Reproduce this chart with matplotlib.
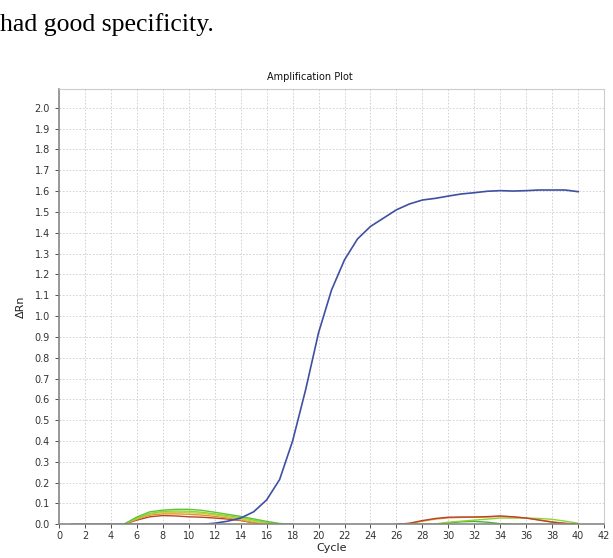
import numpy as np
import matplotlib

matplotlib.use("Agg")
import matplotlib.pyplot as plt

plt.rcParams['font.family'] = ['DejaVu Sans']

# ========= data =========
cycles = np.arange(1, 41)

# 阳性样本 (blue)
blue = [0.0, 0.0, 0.0, 0.0, 0.0, 0.0, 0.0, 0.0, 0.0, 0.0,
        0.0, 0.005, 0.015, 0.03, 0.06, 0.117, 0.215, 0.40, 0.645, 0.92,
        1.125, 1.27, 1.37, 1.43, 1.47, 1.51, 1.538, 1.557, 1.565, 1.576,
        1.586, 1.592, 1.599, 1.602, 1.600, 1.602, 1.605, 1.605, 1.605, 1.597]

# 阴性/其它样本 (first hump, cycles 5-18)
hump_cycles = np.arange(5, 19)
green1 = [0.0, 0.035, 0.060, 0.068, 0.072, 0.072, 0.067, 0.058, 0.048, 0.038, 0.026, 0.014, 0.004, 0.0]
green2 = [0.0, 0.030, 0.052, 0.062, 0.064, 0.063, 0.058, 0.050, 0.041, 0.032, 0.020, 0.009, 0.002, 0.0]
yellow = [0.0, 0.028, 0.050, 0.056, 0.058, 0.056, 0.052, 0.045, 0.036, 0.026, 0.014, 0.004, 0.0, 0.0]
orange = [0.0, 0.024, 0.044, 0.050, 0.050, 0.048, 0.044, 0.038, 0.030, 0.020, 0.008, 0.0, 0.0, 0.0]
brown = [0.0, 0.020, 0.036, 0.042, 0.040, 0.036, 0.034, 0.030, 0.025, 0.018, 0.007, 0.0, 0.0, 0.0]

# second hump, cycles 26-40
late_cycles = np.arange(26, 41)
brown_late = [0.0, 0.005, 0.018, 0.028, 0.034, 0.035, 0.035, 0.037, 0.040, 0.036, 0.030, 0.020, 0.010, 0.004, 0.0]
orange_late = [0.0, 0.004, 0.015, 0.025, 0.031, 0.033, 0.034, 0.035, 0.038, 0.035, 0.030, 0.021, 0.012, 0.005, 0.0]
green_late = [0.0, 0.0, 0.0, 0.002, 0.010, 0.015, 0.020, 0.025, 0.030, 0.030, 0.030, 0.028, 0.024, 0.015, 0.005]
green_late2 = [0.0, 0.0, 0.0, 0.0, 0.006, 0.012, 0.014, 0.010, 0.003, 0.0, 0.0, 0.0, 0.0, 0.0, 0.0]

x_ticks = np.arange(0, 43, 2)
y_ticks = np.round(np.arange(0, 2.01, 0.1), 1)

# ========= figure =========
fig = plt.figure(figsize=(6.13, 5.58), dpi=100)
ax = fig.add_axes([0.0962, 0.0604, 0.8893, 0.7801])

ax.plot(hump_cycles, brown, color='#b5452a', lw=1.0)
ax.plot(hump_cycles, orange, color='#e8902e', lw=1.0)
ax.plot(hump_cycles, yellow, color='#c9cf3c', lw=1.0)
ax.plot(hump_cycles, green2, color='#8fd23a', lw=1.0)
ax.plot(hump_cycles, green1, color='#5fc436', lw=1.0)

ax.plot(late_cycles, green_late2, color='#3fb82e', lw=1.0)
ax.plot(late_cycles, green_late, color='#8fd23a', lw=1.0)
ax.plot(late_cycles, orange_late, color='#e8902e', lw=1.0)
ax.plot(late_cycles, brown_late, color='#b5452a', lw=1.0)

ax.plot(cycles, blue, color='#3f4fa3', lw=1.2)

ax.set_xlim(0, 42)
ax.set_ylim(0, 2.09)
ax.set_xticks(x_ticks)
ax.set_yticks(y_ticks)
ax.set_yticklabels([f"{v:.1f}" for v in y_ticks])
ax.tick_params(labelsize=7, colors='#333333', length=3, width=0.6)
ax.tick_params(axis='x', pad=2)
ax.grid(True, color='#cccccc', linestyle=(0, (2, 2)), linewidth=0.6)
for side in ['top', 'right']:
    ax.spines[side].set_color('#cccccc')
for side in ['left', 'bottom']:
    ax.spines[side].set_color('#888888')
    ax.spines[side].set_linewidth(1.2)

ax.set_xlabel("Cycle", fontsize=8, color='#222222', labelpad=1)
ax.set_ylabel("ΔRn", fontsize=8, color='#222222', labelpad=6)

fig.text(0.505, 0.857, "Amplification Plot", fontsize=7, ha='center', va='baseline', color='#111111')
fig.text(0.0, 0.945, "had good specificity.", fontsize=18.5, ha='left', va='baseline',
         family=['Liberation Serif', 'DejaVu Serif'], color='black')

fig.savefig("out.png", dpi=100)
plt.close(fig)
